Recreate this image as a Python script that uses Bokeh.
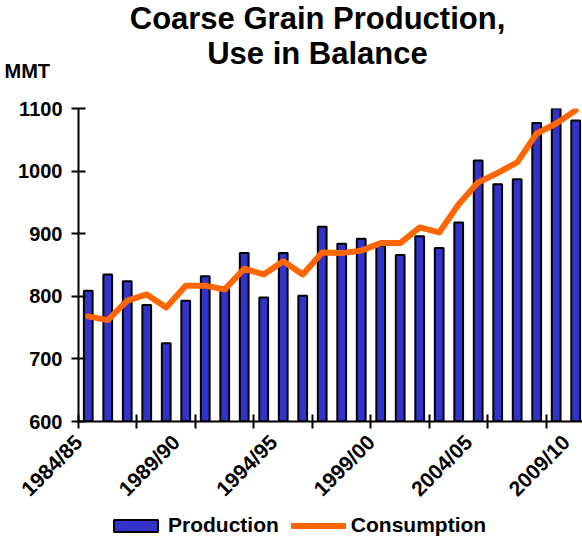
import math
from bokeh.plotting import figure
from bokeh.layouts import column
from bokeh.models import Range1d, FixedTicker, Legend, LegendItem, Label
from bokeh.embed import file_html
from bokeh.resources import INLINE

seasons = ["1984/85", "1985/86", "1986/87", "1987/88", "1988/89", "1989/90",
           "1990/91", "1991/92", "1992/93", "1993/94", "1994/95", "1995/96",
           "1996/97", "1997/98", "1998/99", "1999/00", "2000/01", "2001/02",
           "2002/03", "2003/04", "2004/05", "2005/06", "2006/07", "2007/08",
           "2008/09", "2009/10"]
production = [809, 835, 824, 786, 725, 793, 832, 812, 869, 798, 869, 801, 911,
              884, 892, 881, 866, 896, 877, 918, 1017, 979, 987, 1077, 1100, 1081]
consumption = [768, 762, 793, 803, 782, 817, 817, 811, 844, 835, 856, 835, 870,
               869, 873, 885, 885, 910, 902, 947, 982, 997, 1014, 1060, 1076, 1097]
tick_seasons = ["1984/85", "1989/90", "1994/95", "1999/00", "2004/05", "2009/10"]
y_ticks = [600, 700, 800, 900, 1000, 1100]
series_names = ["Production", "Consumption"]
title_text = "Coarse Grain Production,\nUse in Balance"
unit_label = "MMT"

FONT = "Liberation Sans"
BAR_FILL = "#3333CC"
LINE_COLOR = "#FF6600"
W = 582
LEG_H = 25
MAIN_H = 537 - LEG_H
xs = list(range(len(seasons)))

p = figure(width=W, height=MAIN_H, output_backend="svg", toolbar_location=None,
           x_range=Range1d(-0.5, len(seasons) - 0.65), y_range=Range1d(600, 1100),
           min_border_left=78, min_border_right=0, min_border_top=108,
           min_border_bottom=MAIN_H - 421)
p.outline_line_color = None
p.xgrid.visible = False
p.ygrid.visible = False

bars = p.vbar(x=xs, top=production, bottom=600, width=0.45,
              fill_color=BAR_FILL, line_color="black", line_width=2)
line = p.line(xs, consumption, line_color=LINE_COLOR, line_width=6,
              line_join="round", line_cap="round")

label_pos = [seasons.index(s) - 0.5 for s in tick_seasons]
xa = p.xaxis[0]
xa.ticker = FixedTicker(ticks=label_pos,
                        minor_ticks=[i + 2.5 for i in range(-3, len(seasons) - 1, 3)])
xa.major_label_overrides = {pos: s for pos, s in zip(label_pos, tick_seasons)}
xa.major_tick_line_color = None
xa.major_tick_in = 0
xa.major_tick_out = 7
xa.minor_tick_in = 7
xa.minor_tick_out = 7
xa.minor_tick_line_width = 2
xa.minor_tick_line_color = "black"
xa.axis_line_width = 2
xa.axis_line_color = "black"
xa.major_label_orientation = math.pi / 4
xa.major_label_text_font = FONT
xa.major_label_text_font_style = "bold"
xa.major_label_text_font_size = "21px"
xa.major_label_text_color = "black"
xa.major_label_standoff = 10

ya = p.yaxis[0]
ya.ticker = FixedTicker(ticks=y_ticks, minor_ticks=[])
ya.major_tick_in = 7
ya.major_tick_out = 7
ya.major_tick_line_width = 2
ya.major_tick_line_color = "black"
ya.axis_line_width = 2
ya.axis_line_color = "black"
ya.major_label_text_font = FONT
ya.major_label_text_font_style = "bold"
ya.major_label_text_font_size = "20px"
ya.major_label_text_color = "black"
ya.major_label_standoff = 9

# header texts in the "above" side panel (screen units relative to their panel)
p.add_layout(Label(x=239, y=73, x_units="screen", y_units="screen",
                   text=title_text, text_font=FONT, text_font_style="bold",
                   text_font_size="31px", text_align="center",
                   text_baseline="alphabetic", text_line_height=1.0,
                   text_color="black"), "above")
p.add_layout(Label(x=-74, y=-32, x_units="screen", y_units="screen",
                   text=unit_label, text_font=FONT, text_font_style="bold",
                   text_font_size="20px", text_align="left",
                   text_baseline="alphabetic", text_color="black"), "above")

# ---- legend strip (separate small figure so the legend is not clipped) ----
lf = figure(width=W, height=LEG_H, output_backend="svg", toolbar_location=None,
            x_range=Range1d(-0.5, len(seasons) - 0.65), y_range=Range1d(600, 1100),
            min_border_left=78, min_border_right=0, min_border_top=0,
            min_border_bottom=0)
lf.axis.visible = False
lf.grid.visible = False
lf.outline_line_color = None
leg_bar = lf.vbar(x=xs, top=production, bottom=600, width=0.45, fill_color=BAR_FILL,
                  line_color="black", line_width=2, visible=False)
leg_line = lf.line(xs, consumption, line_color=LINE_COLOR, line_width=6,
                   line_cap="round", visible=False)
legend = Legend(items=[LegendItem(label=series_names[0], renderers=[leg_bar]),
                       LegendItem(label=series_names[1], renderers=[leg_line])],
                location=(30, 0), orientation="horizontal",
                glyph_width=55, glyph_height=15, label_standoff=5, spacing=12,
                padding=0, margin=0, border_line_color=None,
                background_fill_alpha=0, inactive_fill_alpha=0,
                label_text_font=FONT, label_text_font_style="bold",
                label_text_font_size="21px", label_text_color="black")
lf.add_layout(legend, "center")

layout = column(p, lf, spacing=0)
open("out.html", "w").write(file_html(layout, INLINE))
